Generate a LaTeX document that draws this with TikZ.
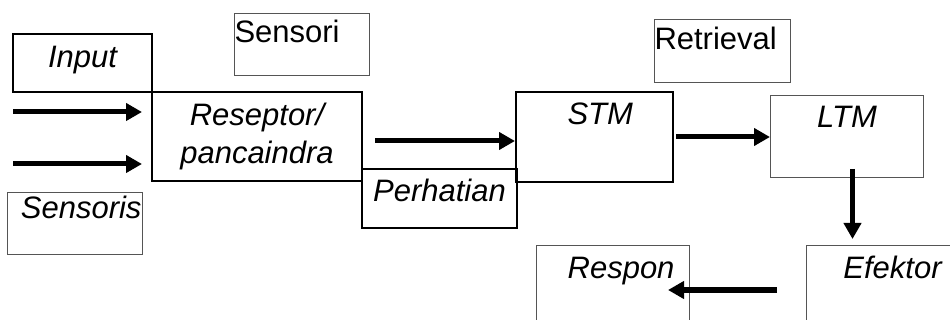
\documentclass[tikz,border=0pt]{standalone}
\usepackage{fontspec}
\setmainfont{Liberation Sans}
\usetikzlibrary{arrows.meta}
\definecolor{TB}{HTML}{555555}

\begin{document}
\begin{tikzpicture}[x=1pt, y=-1pt, font=\fontsize{31}{38}\selectfont,
    every node/.style={rectangle, inner sep=0pt, anchor=north west},
    box/.style={draw, line width=2pt, font=\fontsize{31}{38}\selectfont\itshape},
    thinbox/.style={draw=TB, line width=1pt},
    arr/.style={line width=5pt, -{Triangle[length=16pt, width=17pt]}}]
    \clip (0,0) rectangle (950,320);
    \node[box, minimum width=139, minimum height=58, text height=34, text depth=24] (input) at (12,33) {Input};
    \node[thinbox, minimum width=135, minimum height=62, text height=29, text depth=33, text width=135, align=left] (sensori) at (234,13) {Sensori};
    \node[box, minimum width=210, minimum height=89, align=center] (reseptor) at (151,91) {Reseptor/\\pancaindra};
    \node[box, minimum width=155, minimum height=59, text height=33, text depth=26] (perhatian) at (361,168) {Perhatian};
    \node[thinbox, font=\fontsize{31}{38}\selectfont\itshape, minimum width=135, minimum height=62, text height=26, text depth=36, text width=133, align=right] (sensoris) at (7,192) {Sensoris};
    \node[box, minimum width=157, minimum height=90, text height=33, text depth=57, text width=77, align=right] (stm) at (515,91) {STM};
    \node[thinbox, minimum width=136, minimum height=63, text height=30, text depth=33, text width=136, align=left] (retrieval) at (654,19) {Retrieval};
    \node[thinbox, font=\fontsize{31}{38}\selectfont\itshape, minimum width=153, minimum height=82, text height=32, text depth=50] (ltm) at (770,95) {LTM};
    \node[thinbox, font=\fontsize{31}{38}\selectfont\itshape, minimum width=172, minimum height=95, text height=33, text depth=62] (efektor) at (806,245) {Efektor};
    \node[thinbox, font=\fontsize{31}{38}\selectfont\itshape, minimum width=153, minimum height=95, text height=33, text depth=62, text width=123, align=right] (respon) at (536,245) {Respon};
    \coordinate (in1) at (13,112);
    \coordinate (in2) at (13,164);
    \draw[arr, shorten >=9pt] (in1) -- (in1 -| reseptor.west);
    \draw[arr, shorten >=9pt] (in2) -- (in2 -| reseptor.west);
    \draw[arr, shorten <=12pt] ([yshift=-4.5pt]reseptor.east) -- ([yshift=-4.5pt]reseptor.east -| stm.west);
    \draw[arr, shorten <=2pt] (stm.east) -- (stm.east -| ltm.west);
    \draw[arr, shorten <=-9pt, shorten >=6pt] ([xshift=5.5pt]ltm.south) -- ([xshift=5.5pt]ltm.south |- efektor.north);
    \draw[arr, shorten <=29pt, shorten >=-22pt] ([yshift=-45pt]efektor.north west) -- ([yshift=-45pt]efektor.north west -| respon.east);
\end{tikzpicture}
\end{document}
